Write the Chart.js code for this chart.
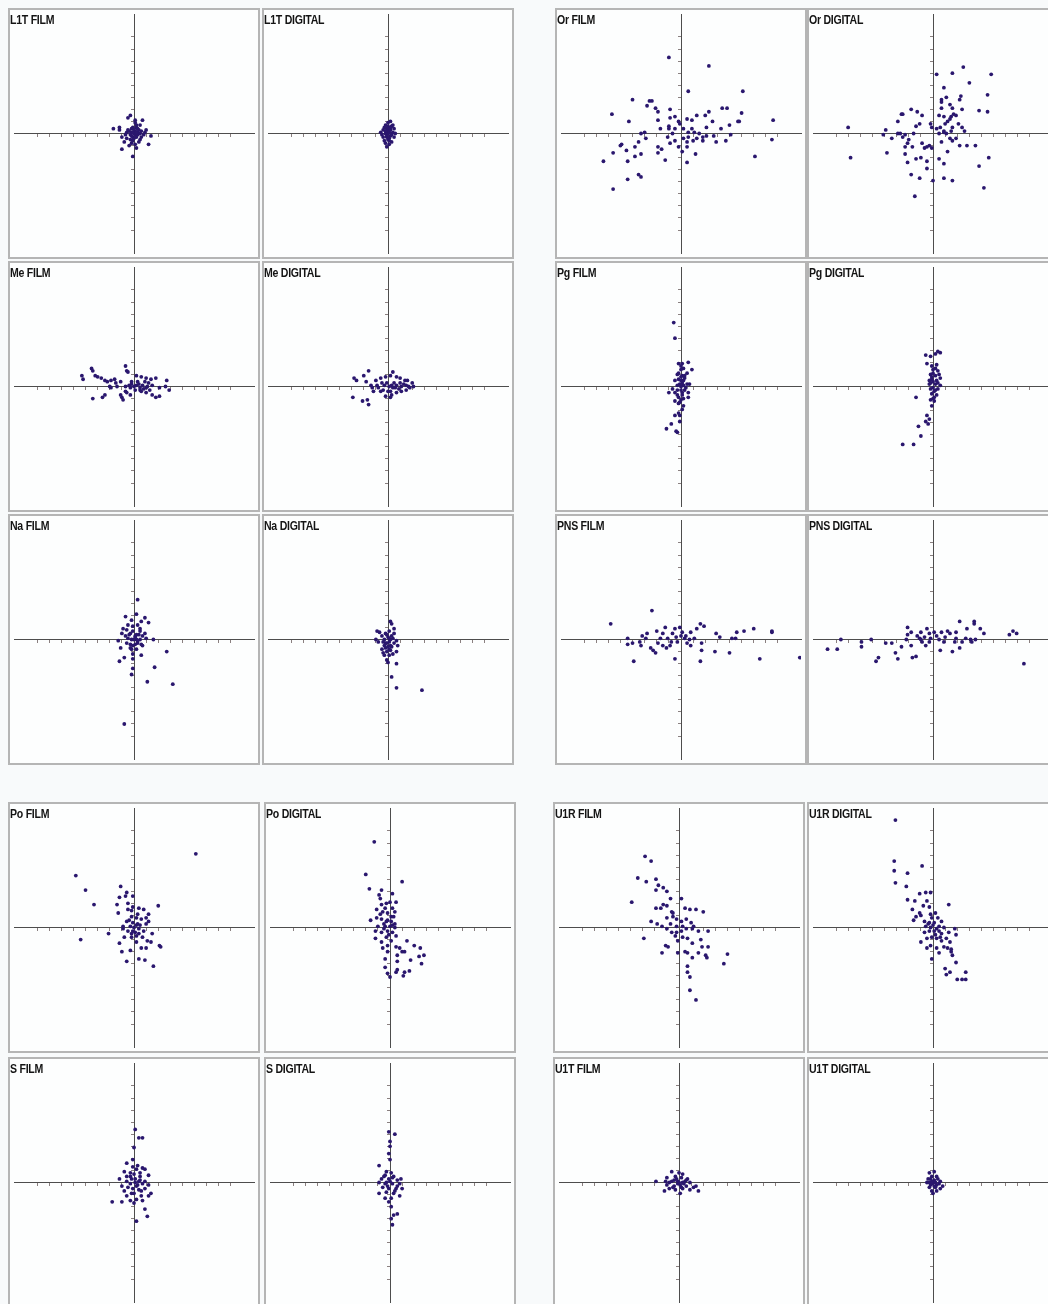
<!DOCTYPE html>
<html>
<head>
<meta charset="utf-8">
<script src="https://cdn.jsdelivr.net/npm/chart.js@4.4.0/dist/chart.umd.min.js"></script>
<style>
  body { margin: 0; width: 1048px; height: 1304px; overflow: hidden; background: #f8fafb; position: relative; }
  .panel { position: absolute; box-sizing: border-box; border: 2px solid #b5b5b5; background: #fdfefe; overflow: hidden; }
  .panel canvas { position: absolute; left: 0; top: 0; }
  .label { position: absolute; left: 0px; top: 3px; font: bold 12px 'Liberation Sans', Arial, sans-serif; color: #141414; letter-spacing: -0.3px; white-space: nowrap; transform: scaleX(0.88); transform-origin: 0 0; }
</style>
</head>
<body>
<script>
// scatter values (units, centre = 0,0)
const l1tFilm = [[-0.3,1.5],[-0.5,1.3],[0.1,1.1],[0.7,1.1],[-1.7,0.4],[-1.2,0.5],[-1.2,0.3],[0.5,0.7],[1.0,0.3],[0.9,0.1],[1.4,-0.2],[1.2,-0.9],[-1.0,-0.3],[-0.8,-0.7],[-0.4,-1.0],[-1.0,-1.3],[-0.1,-1.9],[0.2,-1.2],[0.1,-0.9],[-0.7,-0.1],[-0.2,0.1],[0.2,0.5],[0.3,0.1],[-0.1,-0.3],[-0.3,-0.5],[0.5,-0.5],[0.6,-0.3],[0.1,0.9],[-0.2,0.4],[-0.6,0.1],[0.1,0.2],[-0.3,-0.1],[0.3,-0.1],[0.0,-0.4],[-0.5,0.3],[0.6,0.2],[0.2,0.7],[-0.1,0.5],[0.4,-0.7],[-0.6,-0.4],[0.8,-0.1],[0.0,0.0],[-0.2,-0.8],[0.3,0.4],[0.1,-0.1],[-0.1,0.1],[0.2,-0.3],[-0.4,0.2],[0.4,0.3],[-0.2,-0.2],[0.5,0],[-0.1,-0.6],[0.2,0.1],[0.0,0.3]];
const l1tDigital = [[0,0.9],[0.2,1.0],[-0.2,0.7],[0.3,0.6],[0.5,0.4],[-0.4,0.3],[-0.6,0.1],[0.1,0.3],[0.4,0.1],[-0.2,0.0],[0.2,-0.2],[-0.4,-0.3],[0.5,-0.3],[0.0,-0.5],[-0.3,-0.6],[0.3,-0.7],[0.1,-0.9],[-0.1,-1.1],[0.2,0.5],[-0.1,0.4],[0.6,0.0],[-0.5,-0.1],[0.0,0.2],[0.3,-0.1],[-0.1,-0.3],[0.1,-0.4],[0.4,0.7],[-0.3,0.5],[0,0],[0.1,0.1],[-0.1,-0.2],[0.2,0.3],[-0.2,0.2],[0.1,-0.6],[0.0,0.6],[-0.2,-0.8]];
const meFilm = [[-3.5,1.5],[-3.4,1.3],[-3.2,0.9],[-3.0,0.8],[-2.7,0.7],[-4.3,0.9],[-4.2,0.6],[-2.4,0.5],[-2.2,0.4],[-1.9,0.5],[-1.6,0.6],[-1.5,0.3],[-0.7,1.7],[-0.6,1.3],[-0.5,1.2],[-1.1,0.4],[-1.4,0],[-1.9,-0.1],[-2.0,0],[-2.6,-0.9],[-2.4,-0.7],[-3.4,-1.0],[-1.1,-0.7],[-1.0,-0.9],[-0.9,-1.1],[-0.7,-0.4],[-0.6,-0.5],[-0.3,-0.7],[0.2,0.9],[0.6,0.8],[1.0,0.7],[1.4,0.6],[1.8,0.7],[2.7,0.5],[2.6,0],[2.9,-0.3],[2.1,-0.1],[1.8,-0.9],[2.1,-0.8],[1.5,-0.7],[1.0,-0.5],[0.5,-0.3],[0.1,-0.3],[0.2,0.1],[0.7,0.1],[1.1,0],[1.5,0.1],[-0.3,-0.1],[-0.7,0],[-0.2,0.4],[0.3,0.4],[1.0,-0.1],[0.5,-0.1],[1.3,-0.3],[0,0],[0.4,0.2],[0.8,-0.2],[-0.4,0.1],[1.2,0.3],[0.6,-0.4],[-0.2,0.2],[0.9,0.4]];
const meDigital = [[-2.8,0.7],[-2.6,0.5],[-2.9,-0.9],[-2.1,-1.2],[-1.7,-1.1],[-1.6,-1.5],[-1.6,1.3],[-2.0,0.9],[-1.8,0.4],[-1.4,0.1],[-1.3,-0.1],[-1.0,0.5],[-0.6,0.7],[-0.2,0.8],[0.2,0.9],[0.4,1.2],[0.7,0.8],[1.0,0.7],[1.4,0.5],[1.6,0.5],[2.0,0.3],[2.1,0],[1.8,-0.1],[1.5,-0.3],[1.1,-0.4],[0.7,-0.5],[0.3,-0.7],[0,-0.4],[-0.4,-0.3],[-0.8,-0.1],[-0.9,0.1],[-0.5,0.3],[-0.1,0.3],[0.3,0.1],[0.7,0.1],[1.1,0],[1.5,0.1],[-0.2,-0.8],[0.2,-0.9],[0.4,-0.1],[1.0,0.3],[-0.6,-0.4],[-1.2,-0.4],[0.1,0],[0.5,0.3],[0.9,-0.2],[-0.3,0.1],[1.3,0.2],[0.6,-0.1],[1.7,0],[0.2,-0.4]];
const naFilm = [[0.3,3.3],[-0.7,1.9],[0.2,2.1],[0.9,1.8],[1.2,1.4],[-0.2,1.6],[0.6,1.5],[-0.5,1.2],[0.3,1.2],[-1.0,0.5],[-0.9,0.9],[-1.3,-0.1],[-1.1,-0.7],[-1.2,-1.8],[-0.8,-1.5],[-0.1,-1.6],[-0.1,-2.4],[-0.2,-2.9],[0.6,-1.3],[0.7,-0.5],[0.9,0.5],[1.0,0.1],[1.6,0],[2.7,-1.0],[1.7,-2.3],[1.1,-3.5],[3.2,-3.7],[-0.8,-7.0],[-0.6,0.8],[-0.3,0.5],[-0.1,0.7],[0.2,0.4],[0.5,0.7],[0.7,0.3],[-0.5,0.1],[-0.2,0],[0.2,0],[0.5,0],[-0.6,-0.3],[-0.3,-0.4],[0.1,-0.4],[0.3,-0.3],[0.6,-0.4],[-0.2,-0.8],[0.2,-0.8],[-0.1,-1.2],[-0.3,-0.7],[-0.7,0.3],[0.1,0.3],[-0.1,1.1],[0.5,0.9],[0,0],[0.1,0.2],[-0.4,0.4],[0.3,-0.1],[-0.1,-0.5],[0.4,0.4]];
const naDigital = [[0.2,1.5],[0.3,1.3],[-0.9,0.7],[-0.7,0.6],[0.5,0.9],[0.5,0.5],[0.7,-0.1],[0.8,-0.5],[0.7,-1.0],[0.7,-2.0],[0.3,-3.1],[0.7,-4.0],[2.8,-4.2],[-1.0,0],[-0.8,-0.2],[-0.4,-1.1],[-0.3,-1.3],[-0.1,-1.7],[0,-1.9],[0.1,-1.3],[0.2,-0.9],[-0.3,-0.5],[-0.1,-0.3],[0.2,-0.5],[0.5,-0.3],[-0.5,0.3],[-0.2,0.5],[0.1,0.7],[0.3,0.3],[-0.3,0],[0.2,0],[-0.2,-0.7],[0.1,-0.8],[-0.5,-0.8],[0.4,-1.2],[0,0.2],[-0.1,0.4],[0.1,-0.2],[-0.2,-0.3],[0.3,-0.6],[0,-0.6],[-0.1,-1.0],[0.1,0.1],[-0.4,-0.2],[0.4,0.1]];
const orFilm = [[-1.0,6.3],[2.3,5.6],[0.6,3.5],[5.1,3.5],[-4.0,2.8],[-2.6,2.7],[-2.4,2.7],[-2.8,2.3],[-2.1,2.1],[-1.9,1.8],[-5.7,1.6],[-4.3,1.0],[-0.9,2.0],[-0.5,1.4],[-0.9,1.3],[-1.9,1.1],[-1.7,0.4],[-1.0,0.6],[-1.0,0.4],[-0.2,1.0],[0.5,1.2],[0.9,1.1],[1.3,1.5],[2.0,1.5],[2.3,1.8],[2.6,1.0],[3.4,2.1],[3.8,2.1],[5.0,1.7],[4.7,1.0],[4.8,1.0],[7.6,1.1],[3.3,0.4],[4.0,0.7],[4.1,-0.1],[3.7,-0.6],[2.9,-0.7],[2.7,-0.2],[7.5,-0.5],[6.1,-1.9],[1.8,-0.6],[1.8,-0.3],[1.3,-0.4],[1.1,0.1],[0.9,0.4],[0.6,0.1],[0.2,0.4],[-0.1,0.8],[-0.5,0.4],[-0.7,0],[-1.1,-0.3],[-0.9,-0.8],[-0.5,-0.6],[-0.2,-1.1],[0.1,-1.5],[0.5,-1.1],[0.5,-0.7],[0.2,-0.4],[0.6,-0.3],[1.0,-0.6],[1.5,0],[2.1,-0.2],[2.1,0.5],[-3.0,0.1],[-3.3,0],[-2.9,-0.4],[-3.5,-0.7],[-3.8,-1.1],[-3.3,-1.7],[-4.5,-1.4],[-4.9,-0.9],[-5.0,-1.0],[-5.6,-1.6],[-6.4,-2.3],[-4.4,-2.3],[-3.8,-1.9],[-1.9,-1.1],[-1.9,-1.6],[-1.6,-1.3],[-1.3,-2.2],[0.5,-2.4],[1.2,-1.7],[-4.4,-3.8],[-3.5,-3.4],[-3.3,-3.6],[-5.6,-4.6]];
const orDigital = [[2.5,5.5],[4.8,4.9],[1.6,5.0],[0.3,4.9],[3.0,4.2],[0.9,3.8],[4.5,3.2],[2.3,3.1],[2.2,2.8],[0.7,2.8],[0.7,2.6],[1.1,3.0],[1.4,2.4],[0.7,2.1],[1.6,2.1],[2.4,2.0],[3.8,1.9],[4.5,1.8],[-1.8,2.0],[-1.3,1.8],[-0.9,1.5],[-2.6,1.6],[-2.5,1.6],[-2.9,1.0],[0.5,1.5],[0.9,1.4],[1.5,1.4],[1.7,1.6],[1.9,1.5],[1.4,1.2],[1.2,1.0],[1.0,0.8],[-0.2,0.8],[-0.1,0.5],[0.3,0.4],[0.6,0.5],[1.6,0.5],[2.1,0.8],[2.4,0.5],[2.6,0.2],[1.5,0.2],[1.1,0],[0.9,0.1],[0.9,0.2],[0.5,0],[-1.1,0.8],[-1.4,0.6],[-7.0,0.5],[-3.9,0.3],[-4.1,-0.1],[-3.4,-0.4],[-2.9,0],[-2.7,0],[-2.3,-0.1],[-1.6,0],[-2.5,-0.3],[-2.0,-0.5],[-2.1,-0.8],[-2.3,-1.1],[-1.7,-1.1],[-0.9,-0.8],[-0.7,-1.2],[-0.5,-1.1],[-0.1,-1.2],[-0.3,-1.0],[0.7,-0.7],[1.4,-0.4],[1.6,-0.6],[1.9,-0.4],[2.2,-1.0],[2.8,-1.0],[3.5,-1.0],[1.2,-1.5],[0.5,-2.1],[0.9,-2.5],[-0.5,-2.3],[-1.0,-2.0],[-0.5,-2.9],[-1.1,-3.7],[-1.8,-3.4],[0,-3.9],[0.9,-3.7],[1.6,-3.9],[3.8,-2.7],[4.6,-2.0],[4.2,-4.5],[-1.5,-5.2],[-6.8,-2.0],[-3.8,-1.6],[-2.3,-1.7],[-2.1,-2.4],[-1.4,-2.1]];
const pgFilm = [[-0.6,5.3],[-0.5,4.0],[-0.2,1.9],[0.1,1.9],[0.6,2.0],[0.9,1.4],[0.5,1.1],[0.2,1.5],[0,1.4],[-0.3,1.0],[0.1,0.9],[0.3,0.7],[-0.2,0.6],[-0.5,0.5],[0.1,0.3],[0.5,0.2],[0.7,0.2],[-0.3,0.1],[0.2,0.1],[-0.7,-0.2],[-1.0,-0.5],[-0.5,-0.5],[0,-0.3],[0.3,-0.3],[0.6,-0.5],[-0.3,-0.7],[0.1,-0.7],[0.6,-0.9],[-0.5,-1.2],[0,-1.1],[0.2,-1.6],[0.1,-1.9],[-0.2,-2.2],[-0.5,-2.4],[-0.1,-2.4],[-0.1,-2.9],[-0.8,-3.1],[-1.2,-3.5],[-0.4,-3.7],[-0.3,-3.8],[0,0],[-0.2,1.1],[0.2,0.5],[-0.3,-0.3],[0.2,-1.0],[-0.2,-1.4],[0,1.7],[0,0.5],[0.1,-0.5],[-0.1,0.2],[0.3,0.9],[-0.2,-0.9],[0.4,-0.1],[0,0.8],[-0.1,-1.3]];
const pgDigital = [[-0.6,2.6],[-0.2,2.5],[0.2,2.7],[0.4,2.9],[0.6,2.8],[-0.5,1.9],[-0.1,1.7],[0.3,1.8],[0,1.4],[0.4,1.3],[-0.2,1.0],[0.2,0.9],[0.6,0.7],[-0.1,0.6],[0.3,0.5],[-0.3,0.2],[0.2,0.2],[0.6,0.1],[-0.2,-0.2],[0.2,-0.3],[-0.1,-0.6],[0.3,-0.7],[0,-1.0],[0.1,-1.2],[-1.4,-0.9],[-0.1,-1.6],[-0.5,-2.4],[-0.3,-2.7],[-0.6,-2.9],[-0.4,-3.1],[-1.2,-3.3],[-1.0,-4.1],[-1.6,-4.8],[-2.5,-4.8],[0,1.1],[-0.2,0.3],[0.4,0.3],[0,-0.1],[-0.2,-1.1],[0,0.4],[0.1,-0.4],[-0.1,0.8],[0.2,1.5],[0.1,-0.9],[0.4,-0.2],[-0.3,0.5],[0.5,1.0]];
const pnsFilm = [[-2.4,2.4],[-5.8,1.3],[-4.4,0.1],[-4.4,-0.4],[-4.0,-0.3],[-3.4,-0.2],[-3.2,0.3],[-2.9,0.1],[-2.8,0.5],[-2.5,-0.7],[-2.3,-0.9],[-2.1,-1.1],[-1.9,-0.3],[-1.7,0.1],[-1.5,0.5],[-1.3,1.0],[-1.1,0.1],[-0.9,-0.5],[-0.7,0.5],[-0.5,0.9],[-0.4,0.2],[-0.3,-0.2],[-0.1,1.0],[0.1,0.6],[0.3,0.1],[0.4,0.3],[0.5,-0.3],[0.7,0],[0.8,0.6],[1.3,0.9],[1.6,1.3],[1.9,1.1],[1.7,-0.3],[1.7,-0.9],[1.6,-1.8],[-0.5,-1.6],[-3.9,-1.8],[2.9,0.5],[3.2,0.2],[2.8,-1.0],[4.0,-1.1],[4.6,0.6],[5.2,0.7],[6.0,0.9],[7.5,0.7],[7.5,0.6],[6.5,-1.6],[4.5,0.1],[4.2,0.1],[-1.2,-0.7],[-0.8,-0.2],[0,0.3],[0.8,-0.5],[-2.0,0.7],[-3.3,-0.5],[1.1,0.1],[-1.5,-0.5],[9.8,-1.5]];
const pnsDigital = [[-8.7,-0.8],[-7.9,-0.8],[-7.6,0],[-5.9,-0.2],[-5.9,-0.6],[-5.1,0],[-4.7,-1.8],[-4.5,-1.5],[-3.9,-0.3],[-3.4,-0.3],[-3.1,-1.1],[-2.9,-1.6],[-2.6,-0.6],[-2.2,0],[-2.1,1.0],[-2.1,0.4],[-1.8,-0.5],[-1.7,-1.5],[-1.4,-1.4],[-1.3,0.3],[-1.1,0.1],[-1.0,0.6],[-0.9,-0.2],[-0.7,0.2],[-0.6,-0.5],[-0.5,0.9],[-0.3,0.5],[-0.2,0.1],[0.1,0.6],[0.3,0.3],[0.5,0],[0.6,-0.9],[0.7,0.6],[1.0,0.2],[1.2,0.7],[1.4,0.5],[1.6,-1.0],[1.8,-0.2],[1.9,0.6],[2.2,1.5],[2.2,-0.7],[2.4,-0.2],[2.7,0.1],[2.8,0.9],[3.1,0],[3.4,1.5],[3.4,1.3],[3.5,0],[3.9,0.9],[4.2,0.5],[6.3,0.4],[6.6,0.7],[6.9,0.5],[7.5,-2.0],[-1.8,0.6],[-1.0,0],[-0.3,-0.2],[0.9,-0.2],[1.9,0.1],[3.2,-0.2]];
const poFilm = [[5.1,6.1],[-4.8,4.3],[-4.0,3.1],[-3.3,1.9],[-4.4,-1.0],[-2.1,-0.5],[-1.1,3.4],[-1.2,2.5],[-0.6,2.9],[-0.7,2.6],[-0.1,2.6],[-0.5,2.0],[-1.4,1.9],[-1.3,1.2],[-0.1,1.7],[0.4,1.6],[0.8,1.5],[1.2,1.1],[2.0,1.8],[1.2,0.5],[1.0,0.8],[-0.5,1.5],[-0.2,0.9],[0.2,0.8],[0.6,0.7],[-0.6,0.5],[-0.1,0.4],[0.3,0.3],[1.0,0.3],[1.5,-0.5],[-0.9,-0.1],[-0.5,-0.3],[-0.1,-0.3],[0.4,-0.1],[0.8,-0.3],[-0.8,-0.8],[-0.2,-0.8],[0.2,-0.7],[0.7,-0.8],[1.1,-1.1],[-1.2,-1.3],[-1.0,-2.0],[-0.3,-1.9],[0.4,-2.6],[0.9,-2.7],[1.6,-3.2],[-0.6,-2.8],[0.6,-1.7],[1.0,-1.7],[2.1,-1.5],[2.2,-1.6],[0.2,-1.2],[1.4,-1.2],[-0.9,0.1],[0.4,-0.5],[0,0],[0.2,0.2],[-0.3,0.1],[0.1,-0.4],[-0.2,-0.5],[0.5,0.2],[-0.4,0.6],[0.3,1.1],[-0.2,1.4]];
const poDigital = [[-1.3,7.1],[-2.0,4.4],[-1.7,3.2],[1.0,3.8],[-0.7,3.1],[0.2,2.8],[-0.9,2.7],[-0.8,2.4],[-1.1,1.5],[-0.7,1.9],[-0.3,2.0],[0,2.1],[0.5,2.1],[0.2,1.6],[-0.6,1.3],[-0.2,1.2],[0.4,1.3],[0.1,0.9],[-1.6,0.6],[-1.1,0.8],[-0.7,0.7],[-0.3,0.5],[0.1,0.5],[0.4,0.3],[-1.0,0.1],[-0.4,0.1],[0,0.1],[0.4,0],[-1.2,-0.3],[-0.7,-0.4],[-0.2,-0.3],[0.2,-0.4],[-1.2,-0.9],[-0.7,-1.2],[-0.3,-0.8],[0.1,-1.1],[0.5,-0.7],[-0.2,-1.5],[0.5,-1.6],[0.8,-1.7],[1.2,-2.0],[0.6,-2.3],[1.0,-2.0],[0.6,-2.8],[1.4,-1.1],[2.0,-1.5],[2.5,-1.7],[2.4,-2.4],[2.8,-2.3],[1.7,-2.7],[2.6,-3.0],[-0.4,-2.6],[-0.4,-3.3],[-0.2,-3.8],[0,-4.1],[0.5,-3.7],[0.6,-3.5],[1.1,-4.0],[1.2,-3.7],[1.6,-3.6],[-0.2,-2.0],[-0.6,-1.7],[-0.5,-0.1],[-0.8,1.1],[-0.2,0.6],[0.2,0.2],[-0.5,0.3],[-0.1,-0.6],[0.3,0.9],[-0.4,1.6]];
const u1rFilm = [[-2.8,5.9],[-2.3,5.5],[-3.4,4.1],[-2.7,3.8],[-1.9,4.0],[-1.7,3.5],[-1.3,3.3],[-1.0,3.0],[-1.9,3.1],[-3.9,2.1],[-0.7,2.4],[0.2,2.4],[-1.9,1.6],[-1.5,1.6],[-1.3,1.9],[-1.0,1.8],[-0.6,1.3],[0.5,1.6],[0.9,1.5],[1.4,1.5],[2.0,1.3],[-2.3,0.5],[-1.8,0.3],[-1.4,0.1],[-1.0,0.8],[-0.5,0.9],[-0.2,0.7],[0.2,0.5],[0.6,0.7],[1.0,0.4],[1.2,0.1],[-2.9,-0.9],[-1.0,-0.1],[-0.6,-0.4],[-0.2,-0.4],[0.2,-0.3],[0.6,-0.1],[1.1,-0.1],[1.6,-0.3],[2.4,-0.3],[-1.1,-1.5],[-0.9,-1.6],[-1.4,-2.1],[-0.1,-1.1],[0.3,-0.8],[0.7,-0.9],[1.1,-1.3],[1.8,-1.0],[1.9,-1.6],[2.4,-1.6],[-0.1,-2.1],[0.5,-2.0],[0.7,-2.1],[1.1,-2.5],[1.6,-2.1],[2.2,-2.3],[2.3,-2.5],[4.0,-2.2],[3.7,-3.0],[0.7,-3.2],[0.7,-3.7],[0.9,-4.1],[0.9,-5.2],[1.4,-6.0],[-0.7,0.3],[-0.2,0.1],[0.3,0.1],[-0.3,-0.7],[-0.5,1.2]];
const u1rDigital = [[-3.1,8.9],[-3.2,5.5],[-3.2,4.7],[-2.1,4.5],[-3.1,3.7],[-0.9,5.1],[-2.2,3.4],[-2.1,2.3],[-1.1,2.8],[-0.6,2.9],[-0.2,2.9],[-1.5,2.2],[-0.8,1.8],[-0.5,2.2],[1.3,1.9],[-1.7,1.5],[-1.1,1.2],[-1.0,1.0],[-1.4,0.9],[-1.6,0.6],[-0.3,1.7],[0.2,1.2],[0.4,0.8],[0.7,0.5],[-0.7,0.5],[-0.3,0.4],[0.1,0.4],[0.5,0.1],[0.9,0],[1.8,-0.1],[1.9,-0.6],[-0.7,-0.4],[-0.3,-0.3],[0.1,-0.3],[0.5,-0.3],[0.7,-0.5],[1.3,-0.4],[-1.0,-1.2],[-0.5,-0.9],[-0.1,-0.8],[0.3,-0.9],[0.7,-1.1],[1.1,-0.9],[1.4,-1.2],[-0.5,-1.7],[-0.2,-1.5],[0.3,-1.7],[0.5,-2.1],[0.9,-1.6],[1.2,-1.7],[1.5,-2.0],[1.6,-2.3],[1.5,-1.8],[-0.1,-2.6],[1.9,-2.9],[1.0,-3.4],[1.4,-3.7],[1.1,-3.9],[2.7,-3.7],[2.0,-4.3],[2.4,-4.3],[2.7,-4.3],[-0.2,0],[-0.6,0.1],[-0.1,0.8],[0,0.2],[0.3,-0.1],[-0.4,0.3],[0.2,-0.6],[-0.2,1.1],[0.6,-0.8]];
const sFilm = [[0.1,4.4],[0.4,3.7],[0.7,3.7],[0,2.9],[-0.6,1.6],[-0.1,1.3],[0.3,1.4],[0.7,1.2],[-0.8,0.9],[-0.3,0.8],[0.2,1.1],[0.9,1.1],[-0.6,0.5],[0,0.7],[0.5,0.5],[1.2,0.6],[-1.2,0.3],[-0.6,0.1],[-0.2,0.3],[0.4,0.1],[0.9,0.1],[-1.0,-0.3],[-0.3,-0.1],[0.2,-0.3],[0.7,-0.1],[1.2,-0.2],[-0.8,-0.7],[-0.1,-0.5],[0.4,-0.6],[0.9,-0.5],[1.4,-0.9],[-0.6,-1.1],[0,-0.9],[0.6,-1.1],[1.2,-1.1],[-0.3,-1.5],[0.2,-1.4],[0.7,-1.5],[-1.8,-1.6],[-1.0,-1.6],[0,-1.7],[0.9,-2.2],[1.1,-2.8],[0.2,-3.2],[-0.1,1.9],[0.5,0.8],[0.1,0],[-0.5,-0.4],[0.1,0.3],[0.3,-0.2],[-0.3,0.5],[0.6,-0.7],[-0.2,-0.9],[0.5,0.2]];
const sDigital = [[-0.1,4.2],[0.4,4.0],[0,3.4],[0,3.0],[-0.1,2.4],[0,1.9],[-0.9,1.4],[-0.3,0.9],[0.1,0.8],[-0.5,0.5],[0.3,0.5],[-0.7,0.3],[-0.1,0.3],[0.6,0.2],[0.9,0.3],[-0.9,0],[-0.4,-0.1],[0.2,-0.1],[0.8,-0.1],[-0.6,-0.4],[-0.1,-0.5],[0.5,-0.5],[1.0,-0.5],[-0.9,-0.9],[-0.3,-0.8],[0.3,-0.9],[0.8,-1.1],[-0.4,-1.3],[0.1,-1.3],[-0.1,-1.6],[0.1,-2.0],[0.3,-2.7],[0.6,-2.6],[0.1,-3.0],[0.2,-3.5],[-0.3,0],[0.6,-0.3],[0,0.1],[0.2,0.4],[-0.2,-0.3],[0.4,-0.7],[-0.4,0.6]];
const u1tFilm = [[-0.6,0.9],[0,0.8],[0.3,0.7],[-1.0,0.4],[-0.3,0.5],[0.2,0.4],[0.7,0.3],[-1.9,0.1],[-1.1,0.1],[-0.6,0.1],[-0.1,0.1],[0.5,0.1],[0.9,0],[-1.0,-0.2],[-0.4,-0.3],[0.1,-0.2],[0.6,-0.3],[1.2,-0.4],[-0.8,-0.5],[-0.3,-0.6],[0.3,-0.5],[0.9,-0.6],[1.6,-0.7],[-1.2,-0.7],[0.1,-0.9],[1.4,-0.3],[-0.1,-0.1],[-0.8,0],[0,0],[0.3,0],[-0.4,0.2],[0.4,-0.1],[-0.2,0.3],[0.2,-0.4],[-0.5,-0.4],[0.6,0.2]];
const u1tDigital = [[-0.3,0.8],[0.1,0.9],[-0.1,0.5],[0.3,0.5],[-0.4,0.3],[0.1,0.2],[0.6,0.1],[-0.5,0],[-0.1,-0.1],[0.5,-0.1],[-0.3,-0.4],[0.2,-0.4],[0.8,-0.3],[-0.1,-0.7],[0.3,-0.7],[0,-0.9],[-0.3,0],[0.6,-0.5],[0,0],[0.2,0],[-0.2,0.3],[0.1,-0.3],[0.4,0.3],[-0.1,0.1],[0.3,-0.2],[-0.2,-0.2]];

const axisMin = -9.9;
const axisMax = 9.9;

// where each panel sits on the page
const panels = [
  { title: 'L1T FILM', pts: l1tFilm, left: 8, top: 8 },
  { title: 'L1T DIGITAL', pts: l1tDigital, left: 262, top: 8 },
  { title: 'Me FILM', pts: meFilm, left: 8, top: 261 },
  { title: 'Me DIGITAL', pts: meDigital, left: 262, top: 261 },
  { title: 'Na FILM', pts: naFilm, left: 8, top: 514 },
  { title: 'Na DIGITAL', pts: naDigital, left: 262, top: 514 },
  { title: 'Or FILM', pts: orFilm, left: 555, top: 8 },
  { title: 'Or DIGITAL', pts: orDigital, left: 807, top: 8 },
  { title: 'Pg FILM', pts: pgFilm, left: 555, top: 261 },
  { title: 'Pg DIGITAL', pts: pgDigital, left: 807, top: 261 },
  { title: 'PNS FILM', pts: pnsFilm, left: 555, top: 514 },
  { title: 'PNS DIGITAL', pts: pnsDigital, left: 807, top: 514 },
  { title: 'Po FILM', pts: poFilm, left: 8, top: 802 },
  { title: 'Po DIGITAL', pts: poDigital, left: 264, top: 802 },
  { title: 'S FILM', pts: sFilm, left: 8, top: 1057 },
  { title: 'S DIGITAL', pts: sDigital, left: 264, top: 1057 },
  { title: 'U1R FILM', pts: u1rFilm, left: 553, top: 802 },
  { title: 'U1R DIGITAL', pts: u1rDigital, left: 807, top: 802 },
  { title: 'U1T FILM', pts: u1tFilm, left: 553, top: 1057 },
  { title: 'U1T DIGITAL', pts: u1tDigital, left: 807, top: 1057 }
];
const panelW = 252, panelH = 251, border = 2;
const dotColor = '#2a176e';

function crossAxis(pos) {
  return {
    type: 'linear',
    min: axisMin,
    max: axisMax,
    position: pos,
    ticks: { display: false, stepSize: 1, maxTicksLimit: 40 },
    afterBuildTicks: s => { s.ticks = s.ticks.filter(t => Number.isInteger(t.value)); },
    grid: { drawOnChartArea: false, drawTicks: true, tickLength: 3, color: '#8a8080', lineWidth: 1 },
    border: { display: true, color: '#4d4d4d', width: 1 }
  };
}

panels.forEach(p => {
  const box = document.createElement('div');
  box.className = 'panel';
  box.style.left = p.left + 'px';
  box.style.top = p.top + 'px';
  box.style.width = panelW + 'px';
  box.style.height = panelH + 'px';
  const cv = document.createElement('canvas');
  cv.width = panelW - 2 * border;
  cv.height = panelH - 2 * border;
  box.appendChild(cv);
  const lab = document.createElement('div');
  lab.className = 'label';
  lab.textContent = p.title;
  box.appendChild(lab);
  document.body.appendChild(box);

  new Chart(cv, {
    type: 'scatter',
    data: {
      datasets: [{
        label: p.title,
        data: p.pts.map(v => ({ x: v[0], y: v[1] })),
        backgroundColor: dotColor,
        borderColor: dotColor,
        borderWidth: 0,
        pointRadius: 1.9
      }]
    },
    options: {
      responsive: false,
      animation: false,
      events: [],
      layout: { padding: 0 },
      plugins: { legend: { display: false }, tooltip: { enabled: false } },
      scales: { x: crossAxis({ y: 0 }), y: crossAxis({ x: 0 }) }
    }
  });
});
</script>
</body>
</html>
